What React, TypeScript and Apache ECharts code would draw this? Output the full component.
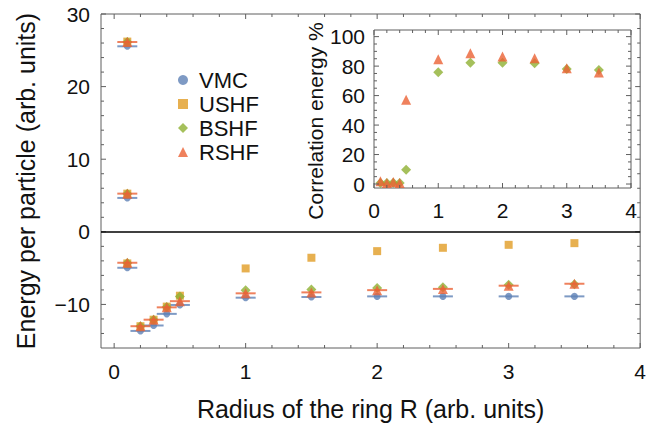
import React, { useEffect, useRef } from "react";
import * as echarts from "echarts";

// Radii of the ring; R = 0.1 carries three separate energy levels
const radii = [0.1, 0.1, 0.1, 0.2, 0.3, 0.4, 0.5, 1, 1.5, 2, 2.5, 3, 3.5];
const vmcEnergy = [25.55, 4.67, -4.95, -13.65, -12.9, -11.3, -10.07, -9.07, -8.98, -8.89, -8.89, -8.89, -8.89];
const ushfEnergy = [26.2, 5.26, -4.35, -13.0, -12.1, -10.3, -8.8, -5.04, -3.57, -2.66, -2.2, -1.79, -1.56];
const bshfEnergy = [26.15, 5.26, -4.3, -13.0, -12.1, -10.35, -8.9, -8.05, -7.95, -7.75, -7.62, -7.3, -7.22];
const rshfEnergy = [26.14, 5.26, -4.26, -13.0, -12.1, -10.4, -9.55, -8.47, -8.34, -8.03, -7.86, -7.42, -7.15];

// Inset: percentage of correlation energy recovered
const corrRadii = [0.1, 0.2, 0.3, 0.4, 0.5, 1, 1.5, 2, 2.5, 3, 3.5];
const bshfCorr = [0.7, 0.7, 0.9, 0.7, 9.7, 75.9, 82.2, 82.2, 81.9, 78.1, 77.4];
const rshfCorr = [1.8, 0.7, 1.4, 0.7, 57.1, 84.7, 88.7, 86.5, 85.4, 78.6, 75.6];

// Tick labels
const mainXTicks = [0, 1, 2, 3, 4];
const mainYTicks = [-10, 0, 10, 20, 30];
const insetXTicks = [0, 1, 2, 3, 4];
const insetYTicks = [0, 20, 40, 60, 80, 100];

// Minor tick positions between the labelled ones
const minorBetween = (from: number, to: number, step: number, skip: number) => {
  const out: number[] = [];
  const n = Math.round((to - from) / step);
  for (let i = 0; i <= n; i++) {
    const v = +(from + i * step).toFixed(4);
    if (Math.abs(v / skip - Math.round(v / skip)) > 1e-6) out.push(v);
  }
  return out;
};

const COLORS = {
  vmc: "#5E81B5",
  ushf: "#E19C24",
  bshf: "#8FB032",
  rshf: "#EB6235",
};
const FRAME = "#5f5f5f";
const FONT = "'Liberation Sans', Arial, Helvetica, sans-serif";

const pairs = (xs: number[], ys: number[]) => xs.map((x, i) => [x, ys[i]]);
const fmt = (v: number) => (v < 0 ? "\u2212" + Math.abs(v) : String(v));

const labelStyle = (size: number, margin: number, values: number[]) => ({
  show: true,
  customValues: values,
  formatter: fmt,
  fontFamily: FONT,
  fontSize: size,
  color: "#111",
  margin,
});

const valueAxis = (grid: number, position: string, min: number, max: number, labels: any, extra: any = {}) => ({
  type: "value",
  gridIndex: grid,
  position,
  min,
  max,
  axisLine: { show: false },
  splitLine: { show: false },
  axisTick: { show: false },
  axisLabel: labels,
  ...extra,
});

type Range = { xMin: number; xMax: number; yMin: number; yMax: number };

export default function App() {
  const ref = useRef<HTMLDivElement>(null);

  useEffect(() => {
    if (!ref.current) return;
    const chart = echarts.init(ref.current, null, { renderer: "svg" });

    const mainRange: Range = { xMin: -0.1, xMax: 4, yMin: -16, yMax: 30 };
    const insetRange: Range = { xMin: 0, xMax: 4, yMin: -2.7, yMax: 104.5 };

    const main = { xAxisIndex: 0, yAxisIndex: 0 };
    const inset = { xAxisIndex: 1, yAxisIndex: 1 };

    const insetTitle = {
      id: "inset-title",
      type: "text",
      x: 315,
      y: 121,
      rotation: Math.PI / 2,
      z: 10,
      style: {
        text: "Correlation energy %",
        font: `21px ${FONT}`,
        fill: "#111",
        align: "center",
        verticalAlign: "middle",
      },
    };

    chart.setOption({
      animation: false,
      backgroundColor: "#fff",
      grid: [
        { left: 101, top: 14, width: 544, height: 336, show: true, borderColor: FRAME, borderWidth: 1, backgroundColor: "transparent" },
        { left: 374, top: 30, width: 257, height: 158, show: true, borderColor: FRAME, borderWidth: 1, backgroundColor: "#fff", z: 5 },
      ],
      xAxis: [
        valueAxis(0, "bottom", mainRange.xMin, mainRange.xMax, labelStyle(21, 13, mainXTicks), {
          name: "Radius of the ring R (arb. units)",
          nameLocation: "middle",
          nameGap: 48,
          nameTextStyle: { fontFamily: FONT, fontSize: 25, color: "#111" },
        }),
        valueAxis(1, "bottom", insetRange.xMin, insetRange.xMax, labelStyle(21, 12, insetXTicks), { z: 6 }),
      ],
      yAxis: [
        valueAxis(0, "left", mainRange.yMin, mainRange.yMax, labelStyle(21, 11, mainYTicks), {
          name: "Energy per particle (arb. units)",
          nameLocation: "middle",
          nameGap: 63,
          nameRotate: 90,
          nameTextStyle: { fontFamily: FONT, fontSize: 25, color: "#111" },
        }),
        valueAxis(1, "left", insetRange.yMin, insetRange.yMax, labelStyle(21, 9, insetYTicks), { z: 6 }),
      ],
      legend: {
        orient: "vertical",
        left: 173,
        top: 64,
        itemWidth: 10,
        itemHeight: 10,
        itemGap: 2,
        textStyle: { fontFamily: FONT, fontSize: 22, lineHeight: 22, color: "#111", padding: [0, 0, 0, 6] },
        data: [
          { name: "VMC", icon: "circle" },
          { name: "USHF", icon: "rect" },
          { name: "BSHF", icon: "diamond" },
          { name: "RSHF", icon: "triangle" },
        ],
      },
      graphic: [insetTitle],
      series: [
        {
          name: "VMC level",
          type: "scatter",
          ...main,
          symbol: "rect",
          symbolSize: [20, 2],
          itemStyle: { color: COLORS.vmc },
          data: pairs(radii, vmcEnergy),
          z: 2,
          markLine: {
            silent: true,
            symbol: "none",
            label: { show: false },
            lineStyle: { color: "#000", width: 1.5, type: "solid" },
            data: [{ yAxis: 0 }],
          },
        },
        {
          name: "VMC",
          type: "scatter",
          ...main,
          symbol: "circle",
          symbolSize: 7,
          itemStyle: { color: COLORS.vmc },
          data: pairs(radii, vmcEnergy),
          z: 3,
        },
        {
          name: "USHF",
          type: "scatter",
          ...main,
          symbol: "rect",
          symbolSize: 8,
          itemStyle: { color: COLORS.ushf },
          data: pairs(radii, ushfEnergy),
          z: 3,
        },
        {
          name: "BSHF",
          type: "scatter",
          ...main,
          symbol: "diamond",
          symbolSize: 10,
          itemStyle: { color: COLORS.bshf },
          data: pairs(radii, bshfEnergy),
          z: 3,
        },
        {
          name: "RSHF level",
          type: "scatter",
          ...main,
          symbol: "rect",
          symbolSize: [20, 2],
          itemStyle: { color: COLORS.rshf },
          data: pairs(radii, rshfEnergy),
          z: 3,
        },
        {
          name: "RSHF",
          type: "scatter",
          ...main,
          symbol: "triangle",
          symbolSize: 10,
          itemStyle: { color: COLORS.rshf },
          data: pairs(radii, rshfEnergy),
          z: 3,
        },
        {
          name: "BSHF",
          type: "scatter",
          ...inset,
          symbol: "diamond",
          symbolSize: 10,
          itemStyle: { color: COLORS.bshf },
          data: pairs(corrRadii, bshfCorr),
          z: 6,
        },
        {
          name: "RSHF",
          type: "scatter",
          ...inset,
          symbol: "triangle",
          symbolSize: 10,
          itemStyle: { color: COLORS.rshf },
          data: pairs(corrRadii, rshfCorr),
          z: 6,
        },
      ],
    });

    // Inward frame ticks on all four sides, placed through the grid's own scales
    const frameTicks = (gridIndex: number, r: Range, xMajor: number[], xMinor: number[], yMajor: number[], yMinor: number[], z: number) => {
      const px = (x: number, y: number) => chart.convertToPixel({ gridIndex }, [x, y]) as number[];
      const els: any[] = [];
      const line = (x1: number, y1: number, x2: number, y2: number) =>
        els.push({
          type: "line",
          z,
          silent: true,
          shape: { x1, y1, x2, y2 },
          style: { stroke: FRAME, lineWidth: 1 },
        });
      const xs = [...xMajor.map((v) => [v, 5]), ...xMinor.map((v) => [v, 3])];
      const ys = [...yMajor.map((v) => [v, 5]), ...yMinor.map((v) => [v, 3])];
      xs.forEach(([v, len]) => {
        const a = px(v, r.yMin);
        const b = px(v, r.yMax);
        line(a[0], a[1], a[0], a[1] - len);
        line(b[0], b[1], b[0], b[1] + len);
      });
      ys.forEach(([v, len]) => {
        const a = px(r.xMin, v);
        const b = px(r.xMax, v);
        line(a[0], a[1], a[0] + len, a[1]);
        line(b[0], b[1], b[0] - len, b[1]);
      });
      return els;
    };

    const tickEls = [
      ...frameTicks(0, mainRange, mainXTicks, minorBetween(0, 4, 0.2, 1), mainYTicks, minorBetween(-14, 28, 2, 10), 4),
      ...frameTicks(1, insetRange, insetXTicks, minorBetween(0, 4, 0.2, 1), insetYTicks, minorBetween(0, 100, 5, 20), 10),
    ];

    chart.setOption({ graphic: [insetTitle, ...tickEls] });

    return () => chart.dispose();
  }, []);

  return <div ref={ref} style={{ width: 649, height: 426, position: "absolute", left: 0, top: 0 }} />;
}
